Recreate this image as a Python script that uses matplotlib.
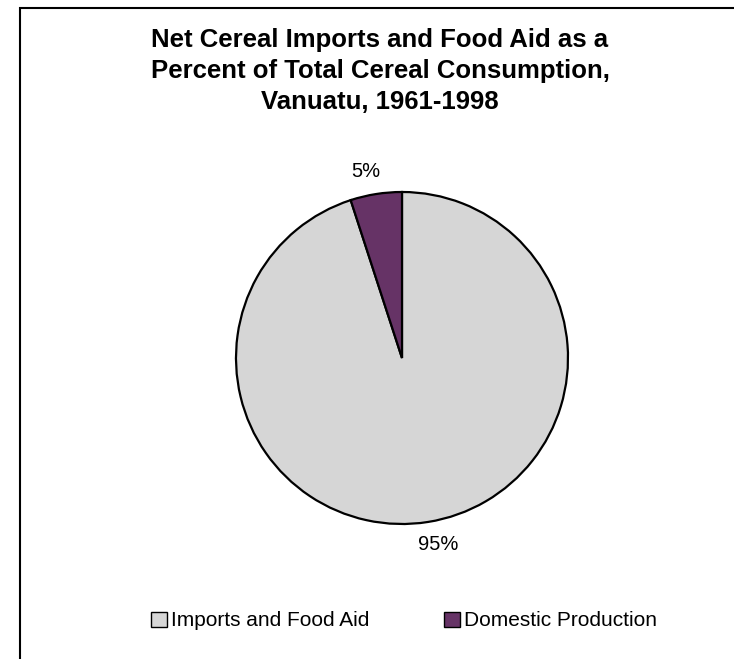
import matplotlib.pyplot as plt
from matplotlib.patches import Patch, Rectangle

plt.rcParams['font.family'] = ['Liberation Sans', 'DejaVu Sans']

# data
labels = ['Imports and Food Aid', 'Domestic Production']
shares = [95, 5]
colors = ['#d6d6d6', '#663366']
title = ('Net Cereal Imports and Food Aid as a\n'
         'Percent of Total Cereal Consumption,\n'
         'Vanuatu, 1961-1998')

W, H = 734, 659
fig = plt.figure(figsize=(W / 100, H / 100), dpi=100)

# pie axes: centre (402, 358) px, radius 166 px
cx, cy, r = 402, 358, 166
ax = fig.add_axes([(cx - r) / W, (H - cy - r) / H, 2 * r / W, 2 * r / H])
wedges, texts, autotexts = ax.pie(
    shares, colors=colors, startangle=90, counterclock=False,
    autopct='%1.0f%%', pctdistance=1.135,
    wedgeprops=dict(edgecolor='black', linewidth=1.6),
    textprops=dict(fontsize=14.5))
for t in autotexts:
    x, y = t.get_position()
    t.set_position((x * 1.22, y))
ax.set_xlim(-1, 1)
ax.set_ylim(-1, 1)
ax.set_aspect('equal')
ax.axis('off')

fig.text(380 / W, 1 - 28 / H, title, ha='center', va='top',
         fontsize=18.5, fontweight='bold', linespacing=1.38)

handles = [Patch(facecolor=c, edgecolor='black', linewidth=1) for c in colors]
fig.legend(handles, labels, loc='center', bbox_to_anchor=(404 / W, 1 - 621 / H),
           ncol=2, frameon=False, fontsize=15, handlelength=0.75, handleheight=0.75,
           handletextpad=0.2, columnspacing=3.6)

# outer chart frame (left and top edges visible)
fig.add_artist(Rectangle((20 / W, -0.1), 1.1, 1.1 - 8 / H, transform=fig.transFigure,
                         fill=False, edgecolor='black', linewidth=1.5))

fig.savefig('out.png', dpi=100)
